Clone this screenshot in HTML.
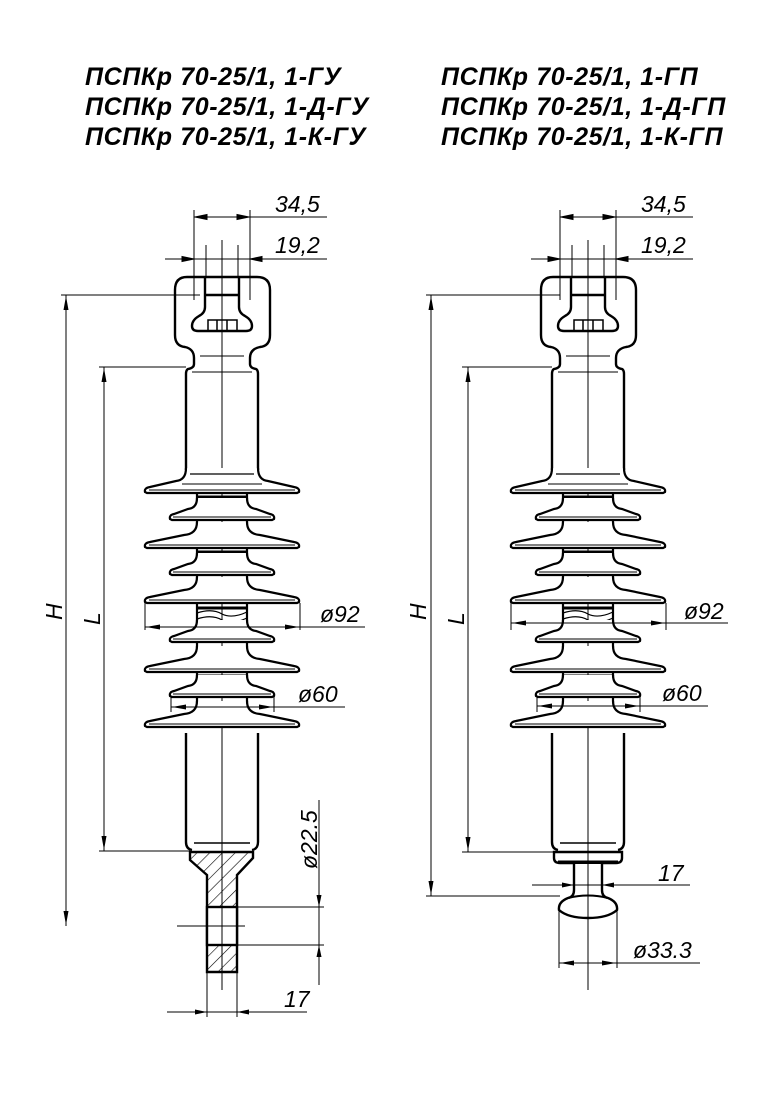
<!DOCTYPE html>
<html><head><meta charset="utf-8"><style>
html,body{margin:0;padding:0;background:#fff}
svg{display:block}
.t{font-family:"Liberation Sans",sans-serif;font-style:italic;font-weight:bold;font-size:25px;letter-spacing:0.6px}
.d{font-family:"Liberation Sans",sans-serif;font-style:italic;font-size:23px}
</style></head><body>
<svg width="784" height="1103" viewBox="0 0 784 1103" xmlns="http://www.w3.org/2000/svg">
<defs>
<pattern id="h" width="9" height="9" patternUnits="userSpaceOnUse" patternTransform="rotate(45)">
<rect width="9" height="9" fill="#fff"/><line x1="0" y1="0" x2="0" y2="9" stroke="#000" stroke-width="1.2"/></pattern>
<g id="big">
<path d="M-25,-26 Q-25,-14 -38,-13 L-72,-6 Q-78,-5 -77,-1 L-75,0 L75,0 L77,-1 Q78,-5 72,-6 L38,-13 Q25,-14 25,-26" fill="#fff" stroke="#000" stroke-width="2.2"/>
<line x1="-73" y1="-3" x2="73" y2="-3" stroke="#000" stroke-width="1"/>
</g>
<g id="bigtop">
<path d="M-36,-25 Q-36,-13 -46,-12 L-72,-6 Q-78,-5 -77,-1 L-75,0 L75,0 L77,-1 Q78,-5 72,-6 L46,-12 Q36,-13 36,-25" fill="#fff" stroke="#000" stroke-width="2.2"/>
<line x1="-73" y1="-3" x2="73" y2="-3" stroke="#000" stroke-width="1"/>
<line x1="-32" y1="-19" x2="32" y2="-19" stroke="#000" stroke-width="1.2"/>
<line x1="-40" y1="-9" x2="40" y2="-9" stroke="#000" stroke-width="1"/>
</g>
<g id="small">
<path d="M-25,-22 Q-25,-12 -34,-11 L-48,-6 Q-53,-5 -52,-1 L-50,0 L50,0 L52,-1 Q53,-5 48,-6 L34,-11 Q25,-12 25,-22" fill="#fff" stroke="#000" stroke-width="2.2"/>
<line x1="-49" y1="-3" x2="49" y2="-3" stroke="#000" stroke-width="1"/>
</g>
<g id="ins" fill="none" stroke="#000">
<path d="M-35,277 H35 Q48,277 48,290 V335 Q48,346 38,347 Q28,349 28,358 V364 Q28,368 34,369 Q36,370 36,374 V470 M-35,277 Q-47,277 -47,290 V335 Q-47,346 -37,347 Q-28,349 -28,358 V364 Q-28,368 -34,369 Q-36,370 -36,374 V470" stroke-width="2.4"/>
<path d="M-17,277 V307 Q-17,313 -23,316 Q-30,320 -30,326 Q-30,331 -24,331 H24 Q30,331 30,326 Q30,320 23,316 Q17,313 17,307 V277" stroke-width="2.4"/>
<line x1="-17" y1="295" x2="17" y2="295" stroke-width="2.4"/>
<path d="M-14,331 V320 H15 V331 M-5,320 V331 M5,320 V331" stroke-width="1.5"/>
<line x1="-22" y1="356" x2="22" y2="356" stroke-width="1"/>
<line x1="-30" y1="372" x2="30" y2="372" stroke-width="1"/>
<path d="M-25,490 V720 M25,490 V720" stroke-width="2.2"/>
<g stroke-width="1">
<line x1="-24" y1="500" x2="24" y2="500"/><line x1="-24" y1="528" x2="24" y2="528"/><line x1="-24" y1="553" x2="24" y2="553"/><line x1="-24" y1="562" x2="24" y2="562"/><line x1="-24" y1="580" x2="24" y2="580"/><line x1="-24" y1="588" x2="24" y2="588"/>
<line x1="-24" y1="648" x2="24" y2="648"/><line x1="-24" y1="657" x2="24" y2="657"/><line x1="-24" y1="678" x2="24" y2="678"/><line x1="-24" y1="686" x2="24" y2="686"/>
<line x1="-24" y1="710" x2="24" y2="710"/><line x1="-24" y1="714" x2="24" y2="714"/>
</g>
<g stroke-width="3"><line x1="-24" y1="497" x2="24" y2="497"/><line x1="-24" y1="552" x2="24" y2="552"/><line x1="-24" y1="608" x2="24" y2="608"/><line x1="-24" y1="676" x2="24" y2="676"/></g>
<path d="M-25,613 Q-10,608 0,614 Q10,619 25,612 M-25,619 Q-10,614 0,620 Q10,625 25,618" stroke-width="1.2" fill="#fff"/>
<path d="M-36,733 V842 Q-36,849 -30,850 M36,733 V842 Q36,849 30,850" stroke-width="2.4"/>
<line x1="-28" y1="843" x2="28" y2="843" stroke-width="1.5"/>
<line x1="0" y1="240" x2="0" y2="990" stroke-width="1"/>
</g>
<g id="sheds">
<use href="#bigtop" y="493"/><use href="#small" y="520"/><use href="#big" y="548"/><use href="#small" y="575"/><use href="#big" y="603"/>
<use href="#small" y="642"/><use href="#big" y="672"/><use href="#small" y="697"/><use href="#big" y="727"/>
</g>
<g id="top" fill="none" stroke="#000" stroke-width="1">
<line x1="-28" y1="210" x2="-28" y2="300"/><line x1="28" y1="210" x2="28" y2="300"/>
<line x1="-16" y1="245" x2="-16" y2="277"/><line x1="16" y1="245" x2="16" y2="277"/>
<line x1="-28" y1="217" x2="105" y2="217"/>
<line x1="-57" y1="259" x2="105" y2="259"/>
<path d="M-27,217 l12,-2.5 v5z M27,217 l-12,-2.5 v5z M-28,259 l-12,-2.5 v5z M28,259 l12,-2.5 v5z" fill="#000"/>
</g>
</defs>

<text class="t" x="85" y="85">ПСПКр 70-25/1, 1-ГУ</text>
<text class="t" x="85" y="115">ПСПКр 70-25/1, 1-Д-ГУ</text>
<text class="t" x="85" y="145">ПСПКр 70-25/1, 1-К-ГУ</text>
<text class="t" x="441" y="85">ПСПКр 70-25/1, 1-ГП</text>
<text class="t" x="441" y="115">ПСПКр 70-25/1, 1-Д-ГП</text>
<text class="t" x="441" y="145">ПСПКр 70-25/1, 1-К-ГП</text>

<g transform="translate(222,0)">
<use href="#top"/><use href="#ins"/><use href="#sheds"/>
<text class="d" x="53" y="212">34,5</text><text class="d" x="53" y="253">19,2</text>
<polygon points="-32,852 31,852 31,858 15,875 15,972 -15,972 -15,875 -32,860" fill="url(#h)" stroke="#000" stroke-width="2.4"/>
<rect x="-15" y="907" width="30" height="38" fill="#fff" stroke="#000" stroke-width="2.4"/>
<line x1="0" y1="840" x2="0" y2="980" stroke="#000" stroke-width="1"/>
<line x1="-45" y1="926" x2="23" y2="926" stroke="#000" stroke-width="1"/>
<g stroke="#000" stroke-width="1" fill="none">
<line x1="15" y1="907" x2="102" y2="907"/><line x1="15" y1="945" x2="102" y2="945"/>
<line x1="97" y1="800" x2="97" y2="985"/>
<line x1="-15" y1="972" x2="-15" y2="1017"/><line x1="15" y1="972" x2="15" y2="1017"/>
<line x1="-55" y1="1012" x2="85" y2="1012"/>
<path d="M97,907 l-2.5,-12 h5z M97,945 l-2.5,12 h5z M-15,1012 l-12,-2.5 v5z M15,1012 l12,-2.5 v5z" fill="#000" stroke="none"/>
<line x1="-77" y1="603" x2="-77" y2="630"/><line x1="78" y1="603" x2="78" y2="630"/>
<line x1="-77" y1="627" x2="143" y2="627"/>
<path d="M-76,627 l14,-2.5 v5z M77,627 l-14,-2.5 v5z" fill="#000" stroke="none"/>
<line x1="-51" y1="697" x2="-51" y2="712"/><line x1="52" y1="697" x2="52" y2="712"/>
<line x1="-51" y1="707" x2="123" y2="707"/>
<path d="M-50,707 l14,-2.5 v5z M51,707 l-14,-2.5 v5z" fill="#000" stroke="none"/>
</g>
<text class="d" x="98" y="622">ø92</text>
<text class="d" x="76" y="702">ø60</text>
<text class="d" x="62" y="1007">17</text>
</g>
<text class="d" transform="translate(317,869) rotate(-90)">ø22.5</text>
<g stroke="#000" stroke-width="1" fill="none">
<line x1="61" y1="295" x2="200" y2="295"/><line x1="99" y1="367" x2="186" y2="367"/><line x1="99" y1="851" x2="190" y2="851"/>
<line x1="66" y1="295" x2="66" y2="926"/><line x1="104" y1="367" x2="104" y2="851"/>
<path d="M66,296 l-2.5,14 h5z M66,925 l-2.5,-14 h5z M104,368 l-2.5,14 h5z M104,850 l-2.5,-14 h5z" fill="#000" stroke="none"/>
</g>
<text class="d" transform="translate(62,620) rotate(-90)">H</text>
<text class="d" transform="translate(100,625) rotate(-90)">L</text>

<g transform="translate(588,0)">
<use href="#top"/><use href="#ins"/><use href="#sheds"/>
<text class="d" x="53" y="212">34,5</text><text class="d" x="53" y="253">19,2</text>
<path d="M-34,852 H34 V858 Q34,863 28,863 H-28 Q-34,863 -34,858 Z" fill="#fff" stroke="#000" stroke-width="2.4"/>
<line x1="-30" y1="862" x2="30" y2="862" stroke="#000" stroke-width="3"/>
<path d="M-14,864 V890 Q-14,897 -20,898 Q-30,902 -29,910 Q-20,918 0,918 Q20,918 29,910 Q30,902 20,898 Q14,897 14,890 V864" fill="#fff" stroke="#000" stroke-width="2.4"/>
<path d="M-20,898 Q0,893 20,898" fill="none" stroke="#000" stroke-width="2"/>
<line x1="0" y1="840" x2="0" y2="925" stroke="#000" stroke-width="1"/>
<g stroke="#000" stroke-width="1" fill="none">
<line x1="-29" y1="910" x2="-29" y2="968"/><line x1="29" y1="910" x2="29" y2="968"/>
<line x1="-29" y1="963" x2="112" y2="963"/>
<path d="M-28,963 l14,-2.5 v5z M28,963 l-14,-2.5 v5z" fill="#000" stroke="none"/>
<line x1="-56" y1="885" x2="102" y2="885"/>
<path d="M-14,885 l-12,-2.5 v5z M14,885 l12,-2.5 v5z" fill="#000" stroke="none"/>
<line x1="-77" y1="603" x2="-77" y2="630"/><line x1="78" y1="603" x2="78" y2="630"/>
<line x1="-77" y1="623" x2="140" y2="623"/>
<path d="M-76,623 l14,-2.5 v5z M77,623 l-14,-2.5 v5z" fill="#000" stroke="none"/>
<line x1="-51" y1="697" x2="-51" y2="712"/><line x1="52" y1="697" x2="52" y2="712"/>
<line x1="-51" y1="706" x2="120" y2="706"/>
<path d="M-50,706 l14,-2.5 v5z M51,706 l-14,-2.5 v5z" fill="#000" stroke="none"/>
</g>
<text class="d" x="96" y="619">ø92</text>
<text class="d" x="74" y="701">ø60</text>
<text class="d" x="70" y="881">17</text>
<text class="d" x="45" y="958">ø33.3</text>
</g>
<g stroke="#000" stroke-width="1" fill="none">
<line x1="426" y1="295" x2="560" y2="295"/><line x1="462" y1="367" x2="552" y2="367"/><line x1="462" y1="852" x2="556" y2="852"/><line x1="426" y1="896" x2="560" y2="896"/>
<line x1="431" y1="295" x2="431" y2="896"/><line x1="468" y1="367" x2="468" y2="852"/>
<path d="M431,296 l-2.5,14 h5z M431,895 l-2.5,-14 h5z M468,368 l-2.5,14 h5z M468,851 l-2.5,-14 h5z" fill="#000" stroke="none"/>
</g>
<text class="d" transform="translate(426,620) rotate(-90)">H</text>
<text class="d" transform="translate(464,625) rotate(-90)">L</text>
</svg>
</body></html>
